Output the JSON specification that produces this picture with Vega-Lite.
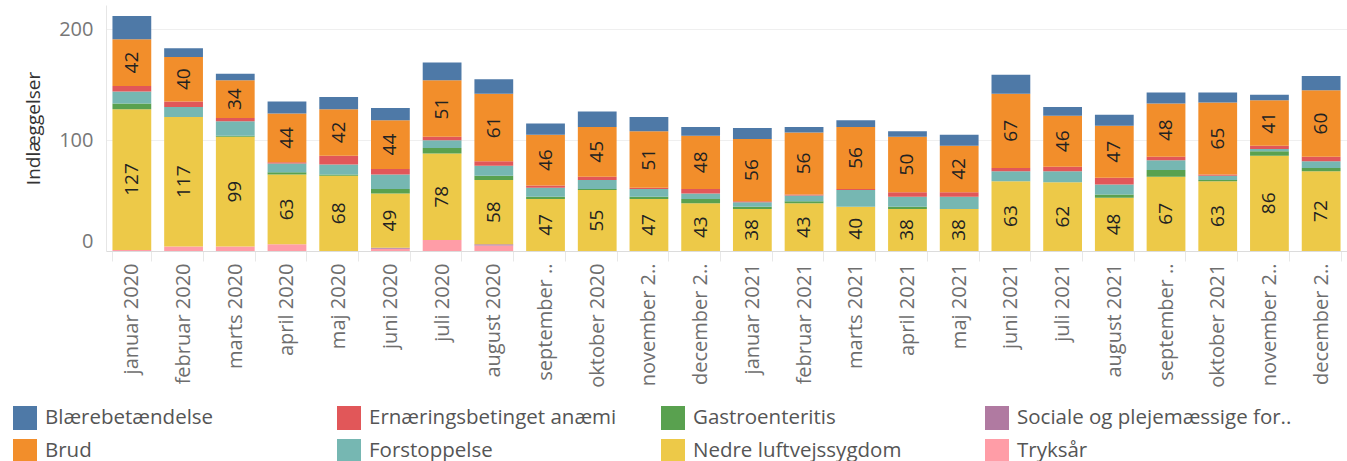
{
"$schema": "https://vega.github.io/schema/vega-lite/v6.json",
"autosize": {"type": "none"},
"padding": {"left": 106, "top": 5, "right": 0, "bottom": 210},
"width": 1241,
"height": 246,
"background": "white",
"config": {"view": {"stroke": null}, "font": "Open Sans"},
"data": {"values": [
{"m":"januar 2020","c":"Tryksår","v":1},{"m":"januar 2020","c":"Nedre luftvejssygdom","v":127},{"m":"januar 2020","c":"Gastroenteritis","v":5},{"m":"januar 2020","c":"Forstoppelse","v":11},{"m":"januar 2020","c":"Ernæringsbetinget anæmi","v":5},{"m":"januar 2020","c":"Brud","v":42},{"m":"januar 2020","c":"Blærebetændelse","v":21},
{"m":"februar 2020","c":"Tryksår","v":4},{"m":"februar 2020","c":"Nedre luftvejssygdom","v":117},{"m":"februar 2020","c":"Forstoppelse","v":9},{"m":"februar 2020","c":"Ernæringsbetinget anæmi","v":5},{"m":"februar 2020","c":"Brud","v":40},{"m":"februar 2020","c":"Blærebetændelse","v":8},
{"m":"marts 2020","c":"Tryksår","v":4},{"m":"marts 2020","c":"Nedre luftvejssygdom","v":99},{"m":"marts 2020","c":"Gastroenteritis","v":1},{"m":"marts 2020","c":"Forstoppelse","v":13},{"m":"marts 2020","c":"Ernæringsbetinget anæmi","v":3},{"m":"marts 2020","c":"Brud","v":34},{"m":"marts 2020","c":"Blærebetændelse","v":6},
{"m":"april 2020","c":"Tryksår","v":6},{"m":"april 2020","c":"Nedre luftvejssygdom","v":63},{"m":"april 2020","c":"Gastroenteritis","v":2},{"m":"april 2020","c":"Forstoppelse","v":8},{"m":"april 2020","c":"Ernæringsbetinget anæmi","v":1},{"m":"april 2020","c":"Brud","v":44},{"m":"april 2020","c":"Blærebetændelse","v":11},
{"m":"maj 2020","c":"Nedre luftvejssygdom","v":68},{"m":"maj 2020","c":"Gastroenteritis","v":1},{"m":"maj 2020","c":"Forstoppelse","v":9},{"m":"maj 2020","c":"Ernæringsbetinget anæmi","v":8},{"m":"maj 2020","c":"Brud","v":42},{"m":"maj 2020","c":"Blærebetændelse","v":11},
{"m":"juni 2020","c":"Tryksår","v":2},{"m":"juni 2020","c":"Sociale og plejemæssige forhold","v":1},{"m":"juni 2020","c":"Nedre luftvejssygdom","v":49},{"m":"juni 2020","c":"Gastroenteritis","v":4},{"m":"juni 2020","c":"Forstoppelse","v":13},{"m":"juni 2020","c":"Ernæringsbetinget anæmi","v":5},{"m":"juni 2020","c":"Brud","v":44},{"m":"juni 2020","c":"Blærebetændelse","v":11},
{"m":"juli 2020","c":"Tryksår","v":10},{"m":"juli 2020","c":"Nedre luftvejssygdom","v":78},{"m":"juli 2020","c":"Gastroenteritis","v":5},{"m":"juli 2020","c":"Forstoppelse","v":7},{"m":"juli 2020","c":"Ernæringsbetinget anæmi","v":3},{"m":"juli 2020","c":"Brud","v":51},{"m":"juli 2020","c":"Blærebetændelse","v":16},
{"m":"august 2020","c":"Tryksår","v":5},{"m":"august 2020","c":"Sociale og plejemæssige forhold","v":1},{"m":"august 2020","c":"Nedre luftvejssygdom","v":58},{"m":"august 2020","c":"Gastroenteritis","v":4},{"m":"august 2020","c":"Forstoppelse","v":9},{"m":"august 2020","c":"Ernæringsbetinget anæmi","v":4},{"m":"august 2020","c":"Brud","v":61},{"m":"august 2020","c":"Blærebetændelse","v":13},
{"m":"september 2020","c":"Nedre luftvejssygdom","v":47},{"m":"september 2020","c":"Gastroenteritis","v":2},{"m":"september 2020","c":"Forstoppelse","v":8},{"m":"september 2020","c":"Ernæringsbetinget anæmi","v":2},{"m":"september 2020","c":"Brud","v":46},{"m":"september 2020","c":"Blærebetændelse","v":10},
{"m":"oktober 2020","c":"Nedre luftvejssygdom","v":55},{"m":"oktober 2020","c":"Gastroenteritis","v":1},{"m":"oktober 2020","c":"Forstoppelse","v":8},{"m":"oktober 2020","c":"Ernæringsbetinget anæmi","v":3},{"m":"oktober 2020","c":"Brud","v":45},{"m":"oktober 2020","c":"Blærebetændelse","v":14},
{"m":"november 2020","c":"Nedre luftvejssygdom","v":47},{"m":"november 2020","c":"Gastroenteritis","v":2},{"m":"november 2020","c":"Forstoppelse","v":7},{"m":"november 2020","c":"Ernæringsbetinget anæmi","v":1},{"m":"november 2020","c":"Brud","v":51},{"m":"november 2020","c":"Blærebetændelse","v":13},
{"m":"december 2020","c":"Nedre luftvejssygdom","v":43},{"m":"december 2020","c":"Gastroenteritis","v":4},{"m":"december 2020","c":"Forstoppelse","v":5},{"m":"december 2020","c":"Ernæringsbetinget anæmi","v":4},{"m":"december 2020","c":"Brud","v":48},{"m":"december 2020","c":"Blærebetændelse","v":8},
{"m":"januar 2021","c":"Nedre luftvejssygdom","v":38},{"m":"januar 2021","c":"Gastroenteritis","v":2},{"m":"januar 2021","c":"Forstoppelse","v":4},{"m":"januar 2021","c":"Ernæringsbetinget anæmi","v":1},{"m":"januar 2021","c":"Brud","v":56},{"m":"januar 2021","c":"Blærebetændelse","v":10},
{"m":"februar 2021","c":"Nedre luftvejssygdom","v":43},{"m":"februar 2021","c":"Gastroenteritis","v":2},{"m":"februar 2021","c":"Forstoppelse","v":5},{"m":"februar 2021","c":"Ernæringsbetinget anæmi","v":1},{"m":"februar 2021","c":"Brud","v":56},{"m":"februar 2021","c":"Blærebetændelse","v":5},
{"m":"marts 2021","c":"Nedre luftvejssygdom","v":40},{"m":"marts 2021","c":"Forstoppelse","v":15},{"m":"marts 2021","c":"Ernæringsbetinget anæmi","v":1},{"m":"marts 2021","c":"Brud","v":56},{"m":"marts 2021","c":"Blærebetændelse","v":6},
{"m":"april 2021","c":"Nedre luftvejssygdom","v":38},{"m":"april 2021","c":"Gastroenteritis","v":2},{"m":"april 2021","c":"Forstoppelse","v":9},{"m":"april 2021","c":"Ernæringsbetinget anæmi","v":4},{"m":"april 2021","c":"Brud","v":50},{"m":"april 2021","c":"Blærebetændelse","v":5},
{"m":"maj 2021","c":"Nedre luftvejssygdom","v":38},{"m":"maj 2021","c":"Forstoppelse","v":11},{"m":"maj 2021","c":"Ernæringsbetinget anæmi","v":4},{"m":"maj 2021","c":"Brud","v":42},{"m":"maj 2021","c":"Blærebetændelse","v":10},
{"m":"juni 2021","c":"Nedre luftvejssygdom","v":63},{"m":"juni 2021","c":"Forstoppelse","v":9},{"m":"juni 2021","c":"Ernæringsbetinget anæmi","v":3},{"m":"juni 2021","c":"Brud","v":67},{"m":"juni 2021","c":"Blærebetændelse","v":17},
{"m":"juli 2021","c":"Nedre luftvejssygdom","v":62},{"m":"juli 2021","c":"Forstoppelse","v":10},{"m":"juli 2021","c":"Ernæringsbetinget anæmi","v":4},{"m":"juli 2021","c":"Brud","v":46},{"m":"juli 2021","c":"Blærebetændelse","v":8},
{"m":"august 2021","c":"Nedre luftvejssygdom","v":48},{"m":"august 2021","c":"Gastroenteritis","v":3},{"m":"august 2021","c":"Forstoppelse","v":9},{"m":"august 2021","c":"Ernæringsbetinget anæmi","v":6},{"m":"august 2021","c":"Brud","v":47},{"m":"august 2021","c":"Blærebetændelse","v":10},
{"m":"september 2021","c":"Nedre luftvejssygdom","v":67},{"m":"september 2021","c":"Gastroenteritis","v":6},{"m":"september 2021","c":"Forstoppelse","v":9},{"m":"september 2021","c":"Ernæringsbetinget anæmi","v":3},{"m":"september 2021","c":"Brud","v":48},{"m":"september 2021","c":"Blærebetændelse","v":10},
{"m":"oktober 2021","c":"Nedre luftvejssygdom","v":63},{"m":"oktober 2021","c":"Gastroenteritis","v":1},{"m":"oktober 2021","c":"Forstoppelse","v":4},{"m":"oktober 2021","c":"Ernæringsbetinget anæmi","v":1},{"m":"oktober 2021","c":"Brud","v":65},{"m":"oktober 2021","c":"Blærebetændelse","v":9},
{"m":"november 2021","c":"Nedre luftvejssygdom","v":86},{"m":"november 2021","c":"Gastroenteritis","v":4},{"m":"november 2021","c":"Forstoppelse","v":2},{"m":"november 2021","c":"Ernæringsbetinget anæmi","v":3},{"m":"november 2021","c":"Brud","v":41},{"m":"november 2021","c":"Blærebetændelse","v":5},
{"m":"december 2021","c":"Nedre luftvejssygdom","v":72},{"m":"december 2021","c":"Gastroenteritis","v":3},{"m":"december 2021","c":"Forstoppelse","v":6},{"m":"december 2021","c":"Ernæringsbetinget anæmi","v":4},{"m":"december 2021","c":"Brud","v":60},{"m":"december 2021","c":"Blærebetændelse","v":13}
]},
"encoding": {
  "x": {"field": "m", "type": "nominal", "sort": null,
    "scale": {"paddingInner": 0.25, "paddingOuter": 0.125},
    "axis": {"title": null, "labelAngle": -90, "labelFontSize": 20, "labelColor": "#6e6e6e",
      "labelExpr": "length(datum.label) > 12 ? slice(datum.label, 0, 10) + '..' : datum.label",
      "tickBand": "extent", "tickSize": 10, "tickColor": "#e8e8e8", "domainColor": "#dcdcdc",
      "labelPadding": 2, "grid": false, "labelLimit": 300}},
  "order": {"field": "c", "sort": "descending"}
},
"layer": [
  {"mark": {"type": "bar"},
   "encoding": {
     "y": {"field": "v", "type": "quantitative", "stack": "zero",
       "scale": {"domain": [0, 222], "nice": false},
       "axis": {"title": "Indlæggelser", "titleFontSize": 19, "titleColor": "#333333", "titleFontWeight": "normal",
         "titlePadding": 15, "values": [0, 100, 200], "labelFontSize": 20, "labelColor": "#777777",
         "ticks": false, "labelPadding": 13, "domainColor": "#e6e6e6", "gridColor": "#efefef",
         "labelFlush": true, "labelFlushOffset": 0}},
     "color": {"field": "c", "type": "nominal",
       "scale": {"domain": ["Blærebetændelse", "Ernæringsbetinget anæmi", "Gastroenteritis", "Sociale og plejemæssige forhold", "Brud", "Forstoppelse", "Nedre luftvejssygdom", "Tryksår"],
                 "range": ["#4e79a7", "#e15759", "#59a14f", "#b07aa1", "#f28e2b", "#76b7b2", "#edc948", "#ff9da7"]},
       "legend": {"orient": "none", "legendX": -93, "legendY": 401, "direction": "horizontal", "columns": 4,
         "title": null, "symbolType": "square", "symbolSize": 576, "symbolStrokeWidth": 0,
         "labelFontSize": 20.5, "labelColor": "#555555", "gridAlign": "all", "columnPadding": 17, "rowPadding": 9,
         "labelOffset": 8, "labelLimit": 400, "padding": 0,
         "labelExpr": "length(datum.label) > 29 ? slice(datum.label, 0, 27) + '..' : datum.label"}}
   }},
  {"mark": {"type": "text", "angle": 270, "align": "center", "baseline": "middle", "fontSize": 19, "color": "#222222"},
   "encoding": {
     "y": {"field": "v", "type": "quantitative", "stack": "zero", "bandPosition": 0.5,
       "scale": {"domain": [0, 222], "nice": false}},
     "detail": {"field": "c", "type": "nominal"},
     "text": {"condition": {"test": "datum.c === 'Brud' || datum.c === 'Nedre luftvejssygdom'", "field": "v", "type": "quantitative"}, "value": ""}
   }}
]
}
